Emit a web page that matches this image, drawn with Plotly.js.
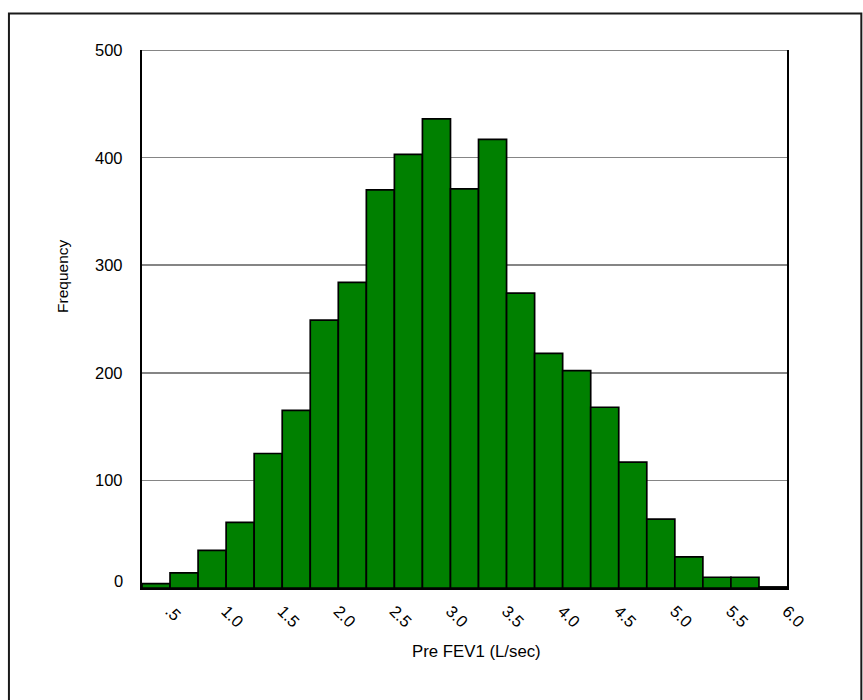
<!DOCTYPE html>
<html>
<head>
<meta charset="utf-8">
<script src="https://cdn.plot.ly/plotly-3.0.1.min.js"></script>
<style>html,body{margin:0;padding:0;background:#fff;}#chart{width:863px;height:700px;}</style>
</head>
<body>
<div id="chart"></div>
<script>
// Bin centres (bins 0.25 L/sec wide, from 0.25 to 6.0)
const binCenters = [0.375, 0.625, 0.875, 1.125, 1.375, 1.625, 1.875, 2.125, 2.375, 2.625, 2.875, 3.125,
                    3.375, 3.625, 3.875, 4.125, 4.375, 4.625, 4.875, 5.125, 5.375, 5.625, 5.875];
const frequencies = [4, 14, 35, 61, 125, 165, 249, 284, 370, 403, 436, 371,
                     417, 274, 218, 202, 168, 117, 64, 29, 10, 10, 1];
const binWidth = 0.25;
const xTickVals = [0.5, 1.0, 1.5, 2.0, 2.5, 3.0, 3.5, 4.0, 4.5, 5.0, 5.5, 6.0];
const xTickText = ['.5', '1.0', '1.5', '2.0', '2.5', '3.0', '3.5', '4.0', '4.5', '5.0', '5.5', '6.0'];
const yTickVals = [0, 100, 200, 300, 400, 500];
const yTickText = ['0', '100', '200', '300', '400', '500'];
const xTitle = 'Pre FEV1 (L/sec)';
const yTitle = 'Frequency';

const W = 863, H = 700;
const L = 142, R = 786.7, T = 50, B = 588;
const px2x = p => (p - L) / (R - L);
const px2y = p => (B - p) / (B - T);
const FONT = 'Liberation Sans, Arial, sans-serif';

const trace = {
  type: 'bar',
  x: binCenters,
  y: frequencies,
  width: binWidth,
  marker: { color: '#008000', line: { color: '#000000', width: 1.7 } },
  hoverinfo: 'x+y'
};

// y tick labels as annotations (the "0" label sits a little above its line, as in the source)
const yLabelAnns = yTickVals.map((v, i) => ({
  text: yTickText[i], xref: 'paper', yref: 'y', x: 0, y: v,
  xanchor: 'right', yanchor: 'middle', xshift: -17, yshift: v === 0 ? 7 : 0,
  showarrow: false, font: { family: FONT, size: 16.5, color: '#000' }
}));

const layout = {
  width: W, height: H,
  margin: { l: L, r: W - R, t: T, b: H - B, pad: 0 },
  paper_bgcolor: '#ffffff',
  plot_bgcolor: '#ffffff',
  showlegend: false,
  bargap: 0,
  font: { family: FONT, color: '#000', size: 16 },
  xaxis: {
    range: [0.25, 6.0],
    tickvals: xTickVals, ticktext: xTickText,
    tickangle: 45,
    ticks: '',
    ticklabelstandoff: 5,
    showgrid: false, zeroline: false,
    showline: true, linecolor: '#000', linewidth: 2,
    tickfont: { family: FONT, size: 16.5, color: '#000' }
  },
  yaxis: {
    range: [0, 500],
    tickvals: yTickVals,
    showticklabels: false,
    ticks: '',
    showgrid: true, gridcolor: '#858585', gridwidth: 1.7,
    zeroline: false,
    showline: true, linecolor: '#000', linewidth: 2, mirror: true
  },
  annotations: yLabelAnns.concat([
    { text: xTitle, xref: 'paper', yref: 'paper', x: px2x(476), y: px2y(651),
      showarrow: false, xanchor: 'center', yanchor: 'middle',
      font: { family: FONT, size: 16.8, color: '#000' } },
    { text: yTitle, xref: 'paper', yref: 'paper', x: px2x(62), y: px2y(276),
      showarrow: false, xanchor: 'center', yanchor: 'middle', textangle: -90,
      font: { family: FONT, size: 15.5, color: '#000' } }
  ]),
  shapes: [
    { type: 'line', xref: 'paper', yref: 'y', layer: 'below',
      x0: 0, x1: 1, y0: 500, y1: 500, line: { color: '#858585', width: 2 } },
    { type: 'rect', xref: 'paper', yref: 'paper', layer: 'above',
      x0: px2x(9), x1: px2x(861), y0: px2y(13.5), y1: px2y(710),
      line: { color: '#1a1a1a', width: 2 }, fillcolor: 'rgba(0,0,0,0)' }
  ]
};

Plotly.newPlot('chart', [trace], layout, { staticPlot: true, displayModeBar: false });
</script>
</body>
</html>
